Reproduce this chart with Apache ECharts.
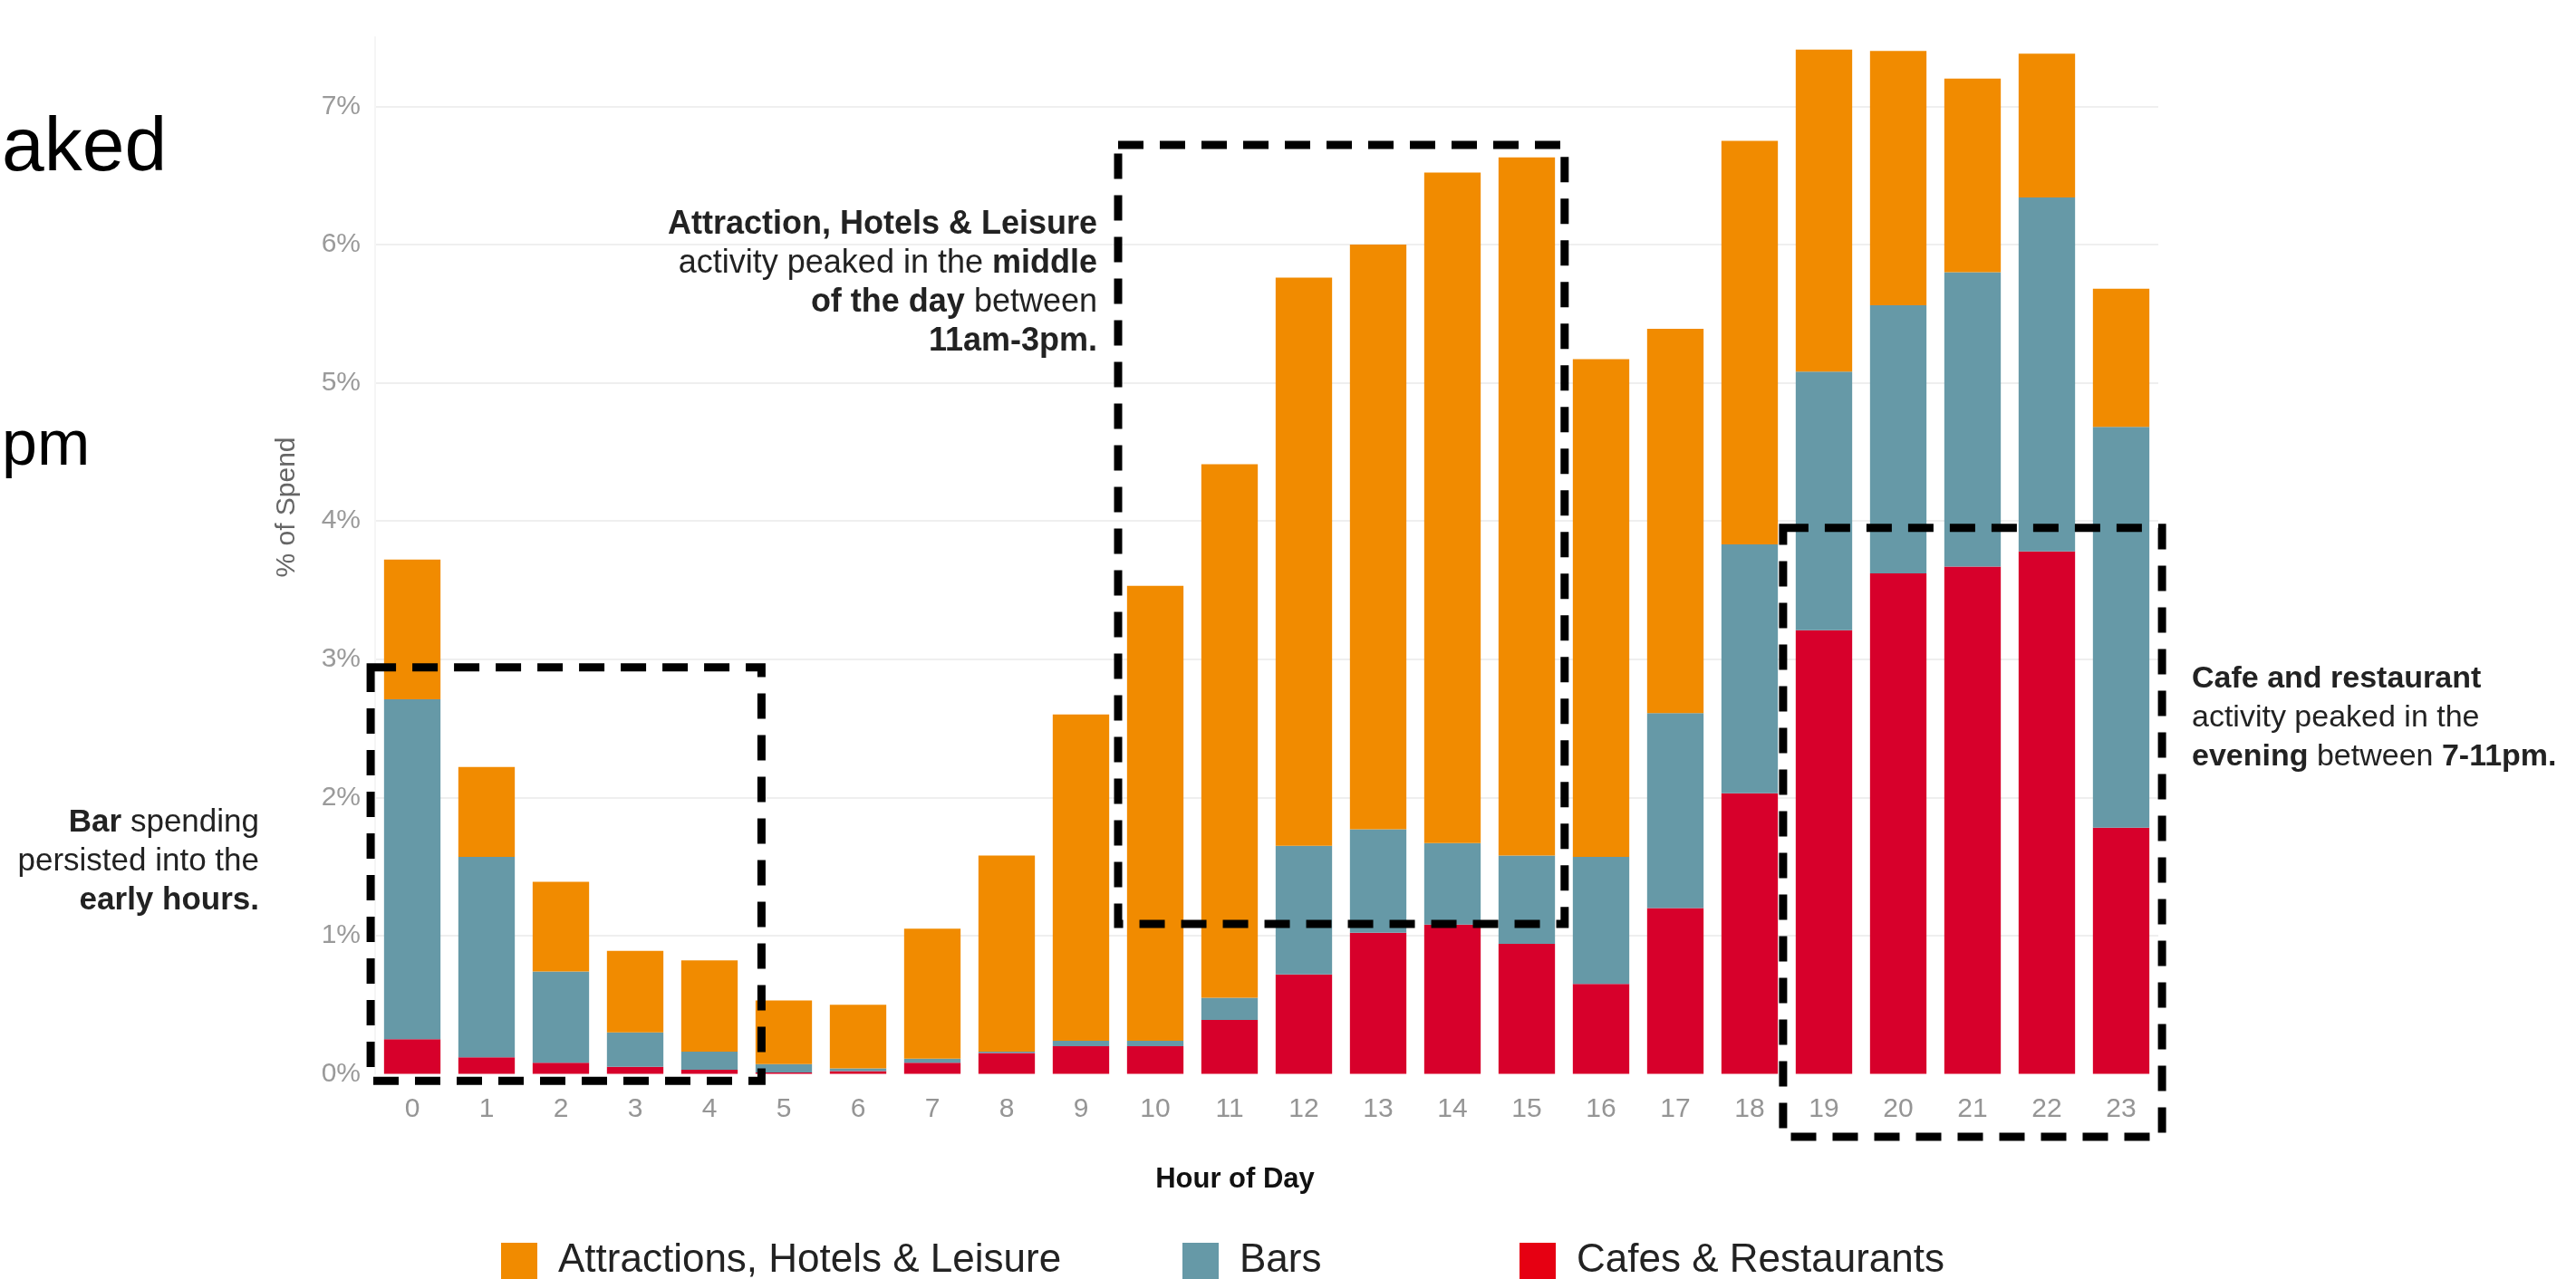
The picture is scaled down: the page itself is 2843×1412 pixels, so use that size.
<!DOCTYPE html>
<html>
<head>
<meta charset="utf-8">
<script src="https://cdn.jsdelivr.net/npm/echarts@6/dist/echarts.min.js"></script>
<style>
html,body{margin:0;padding:0;background:#ffffff;}
#chart{width:2843px;height:1412px;}
</style>
</head>
<body>
<div id="chart"></div>
<script>
// ---- data (percent of spend by hour of day) ----
const hours = ['0','1','2','3','4','5','6','7','8','9','10','11','12','13','14','15','16','17','18','19','20','21','22','23'];
const cafesRestaurants = [0.25,0.12,0.08,0.05,0.03,0.01,0.02,0.08,0.15,0.20,0.20,0.39,0.72,1.02,1.08,0.94,0.65,1.20,2.03,3.21,3.62,3.67,3.78,1.78];
const barsSpend        = [2.46,1.45,0.66,0.25,0.13,0.06,0.02,0.03,0.01,0.04,0.04,0.16,0.93,0.75,0.59,0.64,0.92,1.41,1.80,1.87,1.94,2.13,2.56,2.90];
const attractions      = [1.01,0.65,0.65,0.59,0.66,0.46,0.46,0.94,1.42,2.36,3.29,3.86,4.11,4.23,4.85,5.05,3.60,2.78,2.92,2.33,1.84,1.40,1.04,1.00];
const yTickValues = [0,1,2,3,4,5,6,7];
const seriesNames = ['Attractions, Hotels & Leisure','Bars','Cafes & Restaurants'];

const COL_ATTR = '#F18B00', COL_BARS = '#6699A7', COL_CAFE = '#D7002B';
const FONT = '"Liberation Sans", Arial, Helvetica, sans-serif';

const chart = echarts.init(document.getElementById('chart'), null, {renderer:'canvas'});

const legendBase = {
  orient:'horizontal', top:1370, itemWidth:40, itemHeight:40, padding:0,
  icon:'rect', selectedMode:false,
  textStyle:{fontFamily:FONT, fontSize:44, color:'#222', padding:[0,0,0,18]}
};

chart.setOption({
  animation:false,
  backgroundColor:'#ffffff',
  grid:{left:414, right:461, top:41, bottom:226.5, containLabel:false},
  legend:[
    Object.assign({}, legendBase, {left:553, data:[seriesNames[0]]}),
    Object.assign({}, legendBase, {left:1305, data:[seriesNames[1]]}),
    Object.assign({}, legendBase, {left:1677, data:[{name:seriesNames[2], itemStyle:{color:'#E60012'}}]})
  ],
  xAxis:{
    type:'category', data:hours,
    axisLine:{show:false}, axisTick:{show:false},
    axisLabel:{color:'#959595', fontFamily:FONT, fontSize:30, margin:24}
  },
  yAxis:{
    type:'value', min:0, max:7.5, interval:1,
    axisLine:{show:true, lineStyle:{color:'#f5f5f5', width:2}},
    axisTick:{show:false},
    axisLabel:{color:'#9a9a9a', fontFamily:FONT, fontSize:30, margin:16, showMaxLabel:false,
      formatter:function(v){ return yTickValues.indexOf(v) >= 0 ? v + '%' : ''; }},
    splitLine:{show:true, showMaxLine:false, showMinLine:false, lineStyle:{color:'#efefef', width:2}}
  },
  series:[
    {name:seriesNames[2], type:'bar', stack:'spend', data:cafesRestaurants, barCategoryGap:'24%', itemStyle:{color:COL_CAFE}},
    {name:seriesNames[1], type:'bar', stack:'spend', data:barsSpend, itemStyle:{color:COL_BARS}},
    {name:seriesNames[0], type:'bar', stack:'spend', data:attractions, itemStyle:{color:COL_ATTR}}
  ]
});

// ---- annotations positioned through the chart's own scales ----
const x0 = chart.convertToPixel({xAxisIndex:0}, 0);
const step = chart.convertToPixel({xAxisIndex:0}, 1) - x0;
const px = (i) => x0 + i * step;
const py = (v) => chart.convertToPixel({yAxisIndex:0}, v);

function box(i1, i2, vTop, vBot){
  const x1 = px(i1), x2 = px(i2), y1 = py(vTop), y2 = py(vBot);
  return {type:'rect', z:100, silent:true,
    shape:{x:x1, y:y1, width:x2-x1, height:y2-y1},
    style:{fill:'none', stroke:'#000', lineWidth:9, lineDash:[28,18]}};
}
function makeRich(size){
  return {
    b:{fontFamily:FONT, fontWeight:'bold', fontSize:size, color:'#111', lineHeight:43},
    r:{fontFamily:FONT, fontSize:size, color:'#222', lineHeight:43}
  };
}
function note(x, y, align, size, lines){
  return {type:'text', z:110, silent:true, x:x, y:y,
    style:{text:lines.join('\n'), align:align, verticalAlign:'top', rich:makeRich(size),
      fontFamily:FONT, fontSize:size, fill:'#222', lineHeight:43}};
}

chart.setOption({
  graphic:[
    box(-0.56, 4.70, 2.94, -0.05),
    box(9.50, 15.51, 6.72, 1.085),
    box(18.45, 23.55, 3.95, -0.455),
    note(1211, 227, 'right', 36, ['{b|Attraction, Hotels & Leisure}', '{r|activity peaked in the }{b|middle}', '{b|of the day}{r| between}', '{b|11am-3pm.}']),
    note(286, 887, 'right', 35, ['{b|Bar}{r| spending}', '{r|persisted into the}', '{b|early hours.}']),
    note(2419, 728, 'left', 34, ['{b|Cafe and restaurant}', '{r|activity peaked in the}', '{b|evening}{r| between }{b|7-11pm.}']),
    {type:'text', silent:true, x:1363, y:1302,
      style:{text:'Hour of Day', align:'center', verticalAlign:'middle', fontFamily:FONT, fontWeight:'bold', fontSize:31, fill:'#111'}},
    {type:'text', silent:true, x:317, y:560, rotation:Math.PI/2,
      style:{text:'% of Spend', align:'center', verticalAlign:'middle', fontFamily:FONT, fontSize:30, fill:'#666'}},
    {type:'text', silent:true, x:2, y:165,
      style:{text:'aked', align:'left', verticalAlign:'middle', fontFamily:FONT, fontSize:84, fill:'#000'}},
    {type:'text', silent:true, x:2, y:494,
      style:{text:'pm', align:'left', verticalAlign:'middle', fontFamily:FONT, fontSize:70, fill:'#000'}}
  ]
});
</script>
</body>
</html>
